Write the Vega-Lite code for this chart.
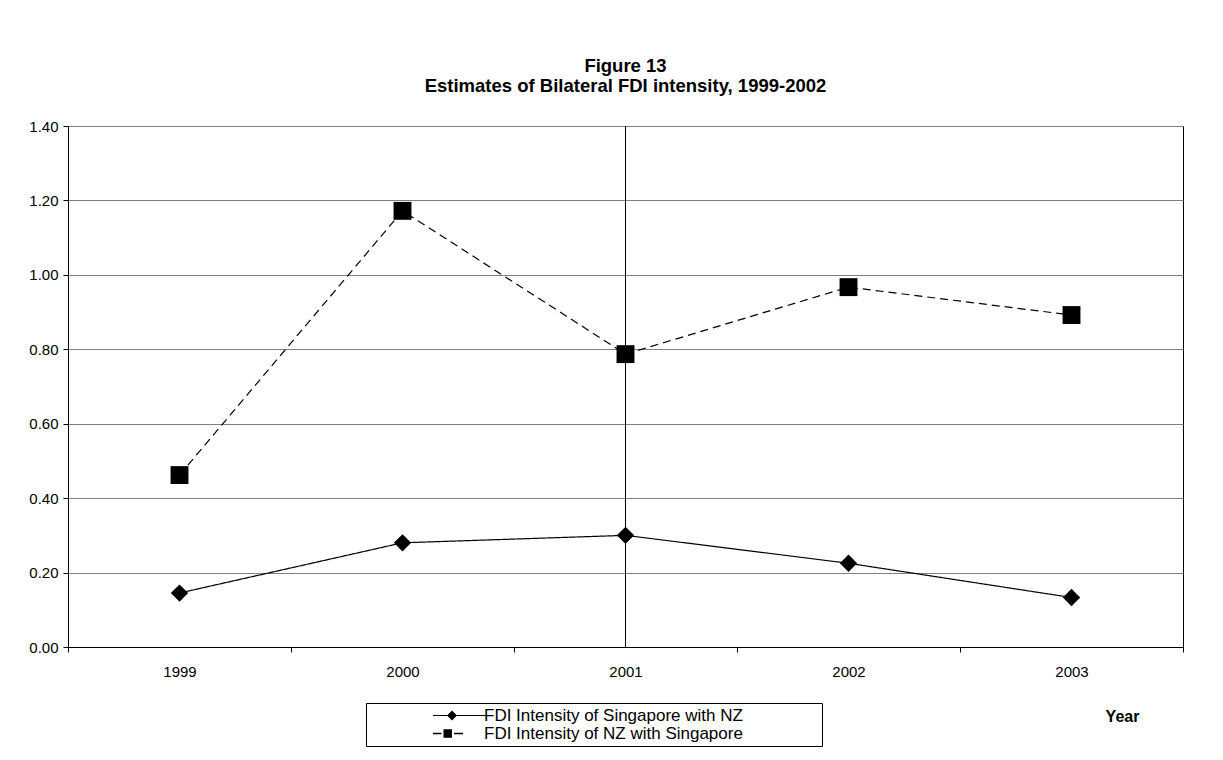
{
  "$schema": "https://vega.github.io/schema/vega-lite/v6.json",
  "width": 1115,
  "height": 521,
  "autosize": "none",
  "padding": {"left": 68, "top": 126, "right": 40, "bottom": 113},
  "background": "white",
  "config": {
    "font": "Liberation Sans",
    "view": {"stroke": "black", "strokeWidth": 1}
  },
  "title": {
    "text": ["Figure 13", "Estimates of Bilateral FDI intensity, 1999-2002"],
    "fontSize": 18.5,
    "fontWeight": "bold",
    "font": "Liberation Sans",
    "lineHeight": 20,
    "offset": 24,
    "color": "black",
    "anchor": "middle"
  },
  "data": {
    "values": [
      {"year": "1999", "series": "FDI Intensity of Singapore with NZ", "value": 0.145},
      {"year": "2000", "series": "FDI Intensity of Singapore with NZ", "value": 0.28},
      {"year": "2001", "series": "FDI Intensity of Singapore with NZ", "value": 0.3},
      {"year": "2002", "series": "FDI Intensity of Singapore with NZ", "value": 0.225},
      {"year": "2003", "series": "FDI Intensity of Singapore with NZ", "value": 0.133},
      {"year": "1999", "series": "FDI Intensity of NZ with Singapore", "value": 0.462},
      {"year": "2000", "series": "FDI Intensity of NZ with Singapore", "value": 1.172},
      {"year": "2001", "series": "FDI Intensity of NZ with Singapore", "value": 0.787},
      {"year": "2002", "series": "FDI Intensity of NZ with Singapore", "value": 0.967},
      {"year": "2003", "series": "FDI Intensity of NZ with Singapore", "value": 0.892}
    ]
  },
  "encoding": {
    "x": {
      "field": "year",
      "type": "ordinal",
      "scale": {"type": "band", "paddingInner": 0, "paddingOuter": 0},
      "axis": {
        "title": "Year",
        "titleFontWeight": "bold",
        "titleFontSize": 16,
        "titleColor": "black",
        "titleX": 1054,
        "titleY": 69,
        "titleAlign": "center",
        "titleBaseline": "middle",
        "labelAngle": 0,
        "labelFontSize": 15,
        "labelColor": "black",
        "tickColor": "black",
        "domainColor": "black",
        "tickSize": 5,
        "tickBand": "extent",
        "labelPadding": 12,
        "grid": false
      }
    },
    "y": {
      "field": "value",
      "type": "quantitative",
      "scale": {"domain": [0, 1.4], "nice": false, "zero": true},
      "axis": {
        "title": null,
        "values": [0, 0.2, 0.4, 0.6, 0.8, 1.0, 1.2, 1.4],
        "format": ".2f",
        "grid": true,
        "gridColor": "#808080",
        "gridOpacity": 1,
        "labelFontSize": 15,
        "labelColor": "black",
        "tickColor": "black",
        "domainColor": "black",
        "tickSize": 5,
        "labelPadding": 5
      }
    }
  },
  "layer": [
    {
      "data": {"values": [{"year": "2001"}]},
      "mark": {"type": "rule", "color": "black", "strokeWidth": 1},
      "encoding": {
        "x": {"field": "year", "type": "ordinal"},
        "y": null
      }
    },
    {
      "mark": {"type": "line", "color": "black", "strokeWidth": 1.2},
      "encoding": {
        "strokeDash": {
          "field": "series",
          "type": "nominal",
          "scale": {
            "domain": ["FDI Intensity of Singapore with NZ", "FDI Intensity of NZ with Singapore"],
            "range": [[1, 0], [8, 5]]
          },
          "legend": {
            "title": null,
            "orient": "none",
            "legendX": 298,
            "legendY": 577,
            "strokeColor": "black",
            "padding": 4,
            "labelFontSize": 17,
            "labelColor": "black",
            "labelOffset": 97,
            "labelLimit": 0,
            "symbolSize": 100,
            "symbolStrokeWidth": 0,
            "rowPadding": 0,
            "encoding": {
              "symbols": {
                "shape": {
                  "condition": {
                    "test": "datum.value === 'FDI Intensity of Singapore with NZ'",
                    "value": "M-1.7,0L-1.7,0M10.9,-0.12H21.6V0.12H10.9ZM13.7,0L14.7,-1L15.7,0L14.7,1ZM87.9,0L87.9,0"
                  },
                  "value": "M-1.7,0L-1.7,0M10.9,-0.15H12.6V0.15H10.9ZM13.0,-0.85H14.7V0.85H13.0ZM15.1,-0.15H16.9V0.15H15.1ZM87.9,0L87.9,0"
                },
                "fill": {"value": "black"},
                "stroke": {"value": "transparent"},
                "strokeWidth": {"value": 0},
                "size": {"value": 100},
                "opacity": {"value": 1}
              }
            }
          }
        }
      }
    },
    {
      "mark": {"type": "point", "filled": true, "color": "black", "opacity": 1},
      "encoding": {
        "shape": {
          "condition": {"test": "datum.series === 'FDI Intensity of Singapore with NZ'", "value": "diamond"},
          "value": "square"
        },
        "size": {
          "condition": {"test": "datum.series === 'FDI Intensity of Singapore with NZ'", "value": 300},
          "value": 320
        }
      }
    }
  ]
}
